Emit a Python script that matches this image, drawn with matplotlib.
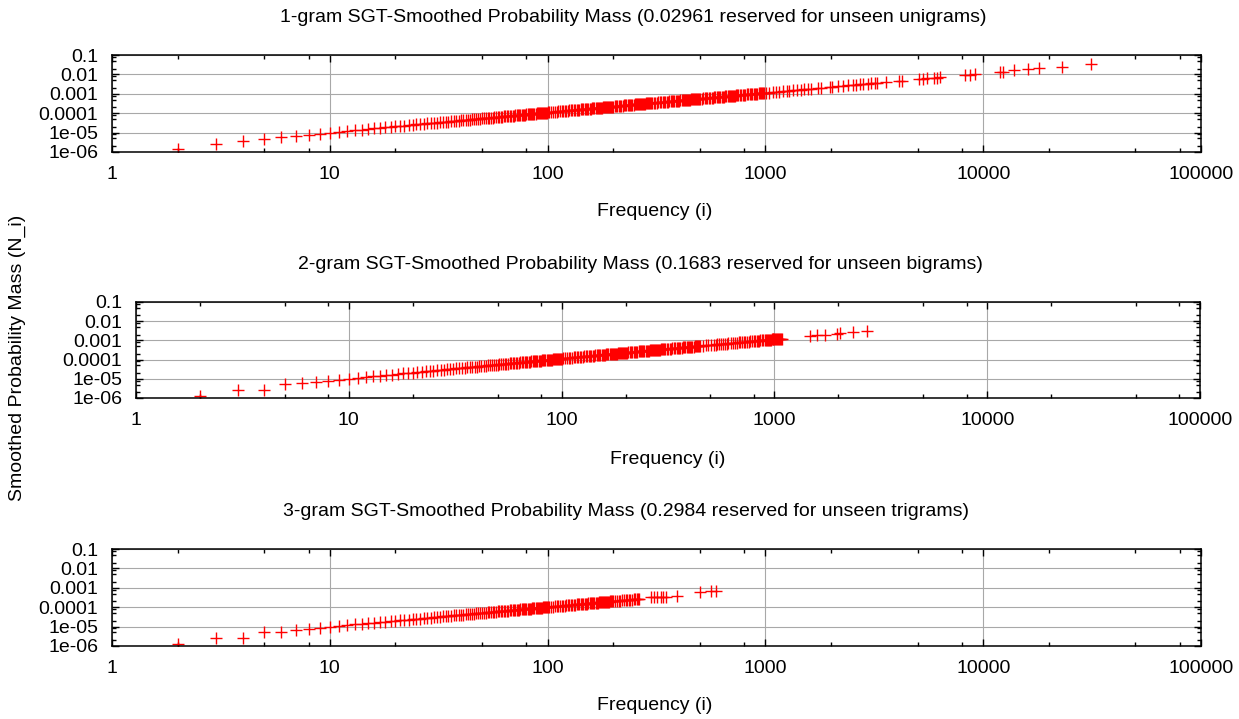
import matplotlib
matplotlib.use("Agg")
import matplotlib.pyplot as plt
from matplotlib.ticker import FixedLocator, FixedFormatter, NullFormatter
import numpy as np

plt.rcParams['font.family'] = ['Liberation Sans', 'DejaVu Sans']
plt.rcParams['font.size'] = 14

# observed frequencies 2..200 are the same in all three models
low_freq = [
    2, 3, 4, 5, 6, 7, 8, 9, 10,
    11, 12, 13, 14, 15, 16, 17, 18, 19, 20, 21, 22, 23, 24, 25, 26, 27, 28, 29, 30,
    31, 32, 33, 34, 35, 36, 37, 38, 39, 40,
    41, 42, 43, 44, 45, 46, 47, 48, 49, 50, 51, 52, 53, 54, 55, 56, 57, 58, 59, 60,
    61, 62, 63, 64, 65, 66, 67, 68, 69, 70, 71, 72, 73, 74, 75, 76, 77, 78, 79, 80,
    81, 82, 83, 84, 85, 86, 87, 88, 89, 90, 91, 92, 93, 94, 95, 96, 97, 98, 99, 100,
    102, 104, 106, 108, 110, 112, 114, 116, 118, 120, 122, 124, 126, 128, 130, 132,
    134, 136, 138, 140, 142, 144, 146, 148, 150, 152, 154, 156, 158, 160, 162, 164,
    166, 168, 170, 172, 174, 176, 178, 180, 182, 184, 186, 188, 190, 192, 194, 196,
    198, 200]

# smoothed probability mass, in millionths
uni_freq = low_freq + [
    203, 206, 209, 212, 215, 218, 221, 224, 227, 230, 233, 236, 239, 242, 245, 248,
    251, 254, 257, 260, 263, 266, 269, 272, 275, 278, 281, 284, 287, 290, 293, 296, 299, 302,
    307, 312, 317, 322, 327, 332, 337, 342, 347, 352, 357, 362, 367, 372, 377, 382,
    387, 392, 397, 402, 407, 412, 417, 422, 427, 432, 437, 442, 447, 452, 457, 462,
    467, 472, 477, 482, 487, 492, 497, 502,
    510, 518, 526, 534, 542, 550, 558, 566, 574, 582, 590, 598, 606, 614, 622, 630,
    638, 646, 654, 662, 670, 678, 686, 694, 702, 710, 718, 726, 734, 742, 750,
    762, 774, 786, 798, 810, 822, 834, 846, 858, 870, 882, 894, 906, 918, 930, 942,
    954, 966, 978, 990,
    1010, 1040, 1080, 1120, 1160, 1200, 1250, 1290, 1340, 1400, 1460, 1510, 1570, 1620,
    1750, 1800, 1970, 2020, 2150, 2270, 2390, 2520, 2610, 2710, 2800, 2960, 3070, 3170,
    3260, 3590, 4090, 4240, 5080, 5300, 5500, 5950, 6120, 6340, 8230, 8700, 9150,
    11900, 12300, 13900, 16000, 18100, 23100, 31300]
uni_mass = [
    1.5, 2.5, 3.55, 4.7, 5.9, 6.6, 7.9, 8.5, 10.0,
    11.0, 12.1, 13.2, 14.3, 15.4, 16.5, 17.6, 18.6, 19.7, 20.8, 21.9, 23.0, 24.0, 25.1,
    26.2, 27.3, 28.4, 29.5, 30.6, 31.7,
    32.9, 33.9, 35.0, 36.0, 37.1, 38.2, 39.2, 40.3, 41.3, 42.4,
    43.9, 44.9, 46.0, 47.1, 48.2, 49.2, 50.3, 51.4, 52.4, 53.5, 54.6, 55.6, 56.7, 57.8,
    58.9, 59.9, 61.0, 62.1, 63.1, 64.2,
    65.9, 67.0, 68.0, 69.1, 70.2, 71.3, 72.4, 73.4, 74.5, 75.6, 76.7, 77.8, 78.8, 79.9,
    81.0, 82.1, 83.2, 84.2, 85.3, 86.4,
    88.3, 89.4, 90.5, 91.6, 92.7, 93.7, 94.8, 95.9, 97.0, 98.1, 99.2, 100, 101, 102,
    104, 105, 106, 107, 108, 109,
    112, 114, 117, 119, 121, 123, 125, 128, 130, 132, 134, 136, 139, 141, 143, 145,
    147, 150, 152, 154, 156, 158, 161, 163, 165, 167, 169, 172, 174, 176, 178, 180,
    183, 185, 187, 189, 191, 194, 196, 198, 200, 202, 205, 207, 209, 211, 213, 216,
    218, 220,
    227, 231, 234, 237, 241, 244, 248, 251, 254, 258, 261, 264, 268, 271, 274, 278,
    281, 284, 288, 291, 295, 298, 301, 305, 308, 311, 315, 318, 321, 325, 328, 332, 335, 338,
    344, 349, 355, 361, 366, 372, 377, 383, 389, 394, 400, 405, 411, 417, 422, 428,
    433, 439, 445, 450, 456, 461, 467, 473, 478, 484, 489, 495, 501, 506, 512, 517,
    523, 529, 534, 540, 545, 551, 557, 562,
    571, 580, 589, 598, 607, 616, 625, 634, 643, 652, 661, 670, 679, 688, 697, 706,
    715, 724, 732, 741, 750, 759, 768, 777, 786, 795, 804, 813, 822, 831, 840,
    853, 867, 880, 894, 907, 921, 934, 948, 961, 974, 988, 1001, 1015, 1028, 1042, 1055,
    1068, 1082, 1095, 1109,
    1130, 1165, 1210, 1250, 1300, 1345, 1400, 1445, 1500, 1570, 1635, 1690, 1760, 1815,
    1960, 2015, 2205, 2260, 2410, 2540, 2680, 2820, 2920, 3035, 3135, 3315, 3440, 3550,
    3650, 4020, 4580, 4750, 5690, 5940, 6160, 6660, 6850, 7100, 8900, 9400, 9900,
    13300, 13700, 15900, 18100, 20400, 24500, 32600]

bi_freq = low_freq + [
    203, 206, 209, 212, 215, 218, 221, 224, 227, 230, 233, 236, 239, 242, 245, 248,
    251, 254, 257, 260, 263, 266, 269, 272, 275, 278, 281, 284, 287, 290, 293, 296, 299, 302,
    307, 312, 317, 322, 327, 332, 337, 342, 347, 352, 357, 362, 367, 372, 377, 382,
    387, 392, 397, 402, 407, 412, 417, 422, 427, 432, 437, 442, 447,
    464, 477, 490, 504, 518, 529, 540, 552, 564, 575, 586, 597, 608, 623, 638, 653,
    668, 680, 692, 704, 717, 730, 742, 756, 770, 784, 798, 812, 826, 838, 850, 860,
    870, 885, 900, 910, 920, 930, 940, 950, 960, 970, 980, 990, 1000, 1010, 1020, 1030,
    1040, 1050, 1060, 1070, 1080,
    1476, 1588, 1737, 1967, 2040, 2343, 2710]
bi_mass = [
    1.3, 2.7, 2.7, 5.4, 5.9, 7.0, 7.8, 8.8, 10.0,
    11.1, 12.2, 13.3, 14.4, 15.5, 16.6, 17.8, 18.9, 20.0, 21.2, 22.3, 23.4, 24.6, 25.7,
    26.9, 28.0, 29.2, 30.4, 31.6, 32.7,
    33.8, 34.9, 36.0, 37.1, 38.2, 39.2, 40.3, 41.4, 42.5, 43.6,
    45.1, 46.2, 47.3, 48.4, 49.5, 50.6, 51.7, 52.8, 53.9, 55.0, 56.1, 57.2, 58.3, 59.4,
    60.5, 61.6, 62.7, 63.8, 64.9, 66.0,
    67.7, 68.8, 69.9, 71.0, 72.2, 73.3, 74.4, 75.5, 76.6, 77.7, 78.8, 79.9, 81.0, 82.1,
    83.3, 84.4, 85.5, 86.6, 87.7, 88.8,
    90.7, 91.8, 93.0, 94.1, 95.2, 96.3, 97.4, 98.6, 99.7, 101, 102, 103, 104, 105,
    106, 108, 109, 110, 111, 112,
    116, 119, 121, 123, 125, 128, 130, 132, 135, 137, 139, 141, 144, 146, 148, 150,
    153, 155, 157, 160, 162, 164, 166, 169, 171, 173, 176, 178, 180, 182, 185, 187,
    189, 192, 194, 196, 198, 201, 203, 205, 207, 210, 212, 214, 217, 219, 221, 223,
    226, 228,
    233, 237, 240, 244, 247, 251, 254, 258, 261, 265, 268, 271, 275, 278, 282, 285,
    289, 292, 296, 299, 302, 306, 309, 313, 316, 320, 323, 327, 330, 334, 337, 340, 344, 347,
    353, 359, 365, 370, 376, 382, 388, 393, 399, 405, 411, 416, 422, 428, 434, 439,
    445, 451, 457, 462, 468, 474, 480, 485, 491, 497, 503, 508, 514,
    534, 549, 564, 580, 596, 608, 621, 635, 649, 661, 674, 687, 699, 716, 734, 751,
    768, 782, 796, 810, 825, 840, 853, 869, 886, 902, 918, 934, 950, 964, 978, 989,
    1000, 1018, 1035, 1047, 1058, 1070, 1081, 1093, 1104, 1116, 1127, 1139, 1150, 1162, 1173, 1185,
    1196, 1208, 1219, 1231, 1242,
    1730, 1850, 1980, 2250, 2300, 2600, 2950]

tri_freq = low_freq + [
    204, 208, 212, 216, 220, 224, 228, 232, 236, 240, 244, 248, 252, 256, 260, 264,
    299, 308, 318, 331, 340, 350, 393, 503, 564, 594]
tri_mass = [
    1.27, 2.6, 2.6, 5.5, 5.5, 6.7, 7.3, 8.2, 10.0,
    10.9, 11.9, 12.9, 13.9, 14.9, 15.9, 16.9, 17.9, 18.9, 19.9, 21.0, 22.0, 23.0, 24.0,
    25.0, 26.0, 27.0, 28.0, 29.0, 30.0,
    31.6, 32.6, 33.7, 34.7, 35.7, 36.7, 37.7, 38.8, 39.8, 40.8,
    41.8, 42.8, 43.9, 44.9, 45.9, 46.9, 47.9, 49.0, 50.0, 51.0, 52.0, 53.0, 54.1, 55.1,
    56.1, 57.1, 58.1, 59.2, 60.2, 61.2,
    62.2, 63.2, 64.3, 65.3, 66.3, 67.3, 68.3, 69.4, 70.4, 71.4, 72.4, 73.4, 74.5, 75.5,
    76.5, 77.5, 78.5, 79.6, 80.6, 81.6,
    82.6, 83.6, 84.7, 85.7, 86.7, 87.7, 88.7, 89.8, 90.8, 91.8, 92.8, 93.8, 94.9, 95.9,
    96.9, 97.9, 98.9, 100, 101, 102,
    104, 106, 108, 110, 112, 114, 116, 118, 120, 122, 124, 126, 129, 131, 133, 135,
    137, 139, 141, 143, 145, 147, 149, 151, 153, 155, 157, 159, 161, 163, 165, 167,
    169, 171, 173, 175, 177, 180, 182, 184, 186, 188, 190, 192, 194, 196, 198, 200,
    202, 204,
    207, 211, 215, 219, 223, 227, 231, 235, 239, 243, 246, 250, 254, 258, 262, 265,
    320, 325, 333, 338, 342, 347, 390, 580, 660, 680]

titles = [
    "1-gram SGT-Smoothed Probability Mass (0.02961 reserved for unseen unigrams)",
    "2-gram SGT-Smoothed Probability Mass (0.1683 reserved for unseen bigrams)",
    "3-gram SGT-Smoothed Probability Mass (0.2984 reserved for unseen trigrams)",
]
x_ticks = [1, 10, 100, 1000, 10000, 100000]
x_labels = ["1", "10", "100", "1000", "10000", "100000"]
y_ticks = [1e-6, 1e-5, 1e-4, 1e-3, 1e-2, 1e-1]
y_labels = ["1e-06", "1e-05", "0.0001", "0.001", "0.01", "0.1"]

W, H = 1239, 719
fig = plt.figure(figsize=(W / 100, H / 100), dpi=100)


def px_rect(left, top, right, bottom):
    return [left / W, 1 - bottom / H, (right - left) / W, (bottom - top) / H]


# pixel boxes of the three plot areas, and where their texts sit
boxes = [(112, 55, 1201, 152), (136, 302, 1200, 398), (112, 549, 1201, 646)]
title_pos = [(633, 17), (640, 264), (626, 511)]
xlabel_pos = [(655, 212), (668, 459), (655, 706)]

series = [(uni_freq, uni_mass), (bi_freq, bi_mass), (tri_freq, tri_mass)]

minor = [m * 10 ** e for e in range(-7, 6) for m in (2, 5, 8)]

for k, (freq, mass) in enumerate(series):
    ax = fig.add_axes(px_rect(*boxes[k]))
    ax.plot(freq, np.array(mass) * 1e-6, linestyle='none', marker='+',
            color='#ff0000', markersize=8.5, markeredgewidth=1.0)
    ax.set_xscale('log')
    ax.set_yscale('log')
    ax.set_xlim(1, 100000)
    ax.set_ylim(1e-6, 0.1)
    ax.xaxis.set_major_locator(FixedLocator(x_ticks))
    ax.xaxis.set_major_formatter(FixedFormatter(x_labels))
    ax.yaxis.set_major_locator(FixedLocator(y_ticks))
    ax.yaxis.set_major_formatter(FixedFormatter(y_labels))
    ax.xaxis.set_minor_locator(FixedLocator(minor))
    ax.yaxis.set_minor_locator(FixedLocator(minor))
    ax.xaxis.set_minor_formatter(NullFormatter())
    ax.yaxis.set_minor_formatter(NullFormatter())
    ax.tick_params(which='both', direction='in', top=True, right=True,
                   width=1.0, color='black', labelsize=14)
    ax.tick_params(which='major', length=5)
    ax.tick_params(which='minor', length=3)
    ax.tick_params(axis='x', pad=10)
    ax.tick_params(axis='y', pad=10)
    ax.grid(True, which='major', color='#a8a8a8', linewidth=0.8)
    for sp in ax.spines.values():
        sp.set_linewidth(1.1)
        sp.set_color('black')

    tx, ty = title_pos[k]
    fig.text(tx / W, 1 - ty / H, titles[k], ha='center', va='center', fontsize=14)
    lx, ly = xlabel_pos[k]
    fig.text(lx / W, 1 - ly / H, "Frequency (i)", ha='center', va='center', fontsize=14)

fig.text(17 / W, 1 - 358 / H, "Smoothed Probability Mass (N_i)", rotation=90,
         ha='center', va='center', fontsize=14)

fig.savefig("out.png", dpi=100)
